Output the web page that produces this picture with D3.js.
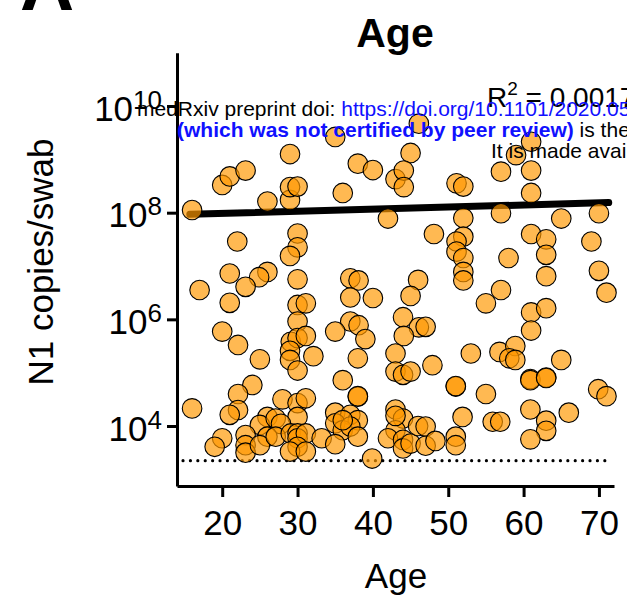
<!DOCTYPE html>
<html>
<head>
<meta charset="utf-8">
<script src="https://cdn.jsdelivr.net/npm/d3@7"></script>
<style>
  body { margin: 0; background: #fff; overflow: hidden; }
  svg { font-family: "Liberation Sans", Arial, sans-serif; }
</style>
</head>
<body>
<script>
// ages of each swab (x) and log10 of N1 copies/swab (y)
var ages = [16.0,35.0,29.0,20.0,21.0,23.1,26.0,29.0,29.0,30.0,36.0,38.0,40.0,43.0,42.0,46.1,45.0,44.1,44.1,51.1,52.0,57.0,61.0,59.0,61.0,61.0,57.0,52.0,65.0,70.0,
    22.0,30.0,30.0,29.0,21.0,26.0,24.9,23.1,17.0,21.0,30.0,37.0,38.1,37.0,40.0,30.0,31.1,30.0,37.0,38.1,20.0,35.0,48.1,52.0,51.1,51.1,52.0,52.0,52.0,58.0,61.0,63.0,63.0,63.0,69.0,70.0,71.0,46.0,45.0,57.0,55.0,61.0,63.0,44.0,46.1,47.0,61.0,
    22.1,25.0,29.1,30.0,31.1,29.0,29.0,30.0,32.1,24.0,22.1,28.0,16.0,22.1,21.0,30.0,31.1,30.0,26.0,25.0,27.1,27.8,23.1,23.1,23.1,20.0,19.0,26.0,25.0,27.1,29.1,30.0,30.0,31.1,30.0,29.0,31.1,33.2,
    39.0,38.0,36.0,38.0,38.0,35.0,37.0,38.0,35.0,36.0,37.0,38.0,35.0,39.9,44.1,43.0,43.0,44.0,45.0,47.9,53.0,51.0,51.0,43.0,44.0,43.0,42.0,44.0,44.0,45.0,46.0,47.0,47.0,48.3,51.9,51.0,51.0,43.0,36.0,
    56.8,58.9,58.1,58.9,65.0,60.9,60.9,63.0,63.0,55.0,69.9,71.0,60.9,66.0,55.9,56.9,63.0,63.0,60.9];

var copiesLog10 = [8.05,9.42,9.10,8.52,8.68,8.79,8.21,8.24,8.48,8.49,8.37,8.92,8.80,8.63,7.89,9.67,9.12,8.79,8.48,8.55,8.49,8.77,9.33,9.08,8.79,8.37,7.99,7.90,7.89,7.99,
    7.46,7.61,7.35,7.19,6.86,6.89,6.79,6.61,6.55,6.31,6.75,6.77,6.73,6.41,6.40,6.27,6.30,5.96,5.96,5.89,5.77,5.77,7.60,7.55,7.46,7.27,7.15,6.89,6.73,7.15,7.60,7.50,7.21,6.81,7.46,6.91,6.50,6.74,6.44,6.55,6.30,6.13,6.21,6.04,5.85,5.86,5.79,
    5.52,5.25,5.58,5.65,5.69,5.41,5.24,5.04,5.31,4.77,4.60,4.50,4.33,4.30,4.21,4.43,4.52,4.17,4.17,4.02,4.14,4.04,3.83,3.64,3.50,3.77,3.61,3.80,3.64,3.80,3.86,3.86,3.77,3.86,3.61,3.52,3.52,3.77,
    5.63,5.27,4.86,4.55,4.56,4.25,4.21,4.11,4.05,3.92,3.99,3.80,3.66,3.39,5.69,5.36,5.02,4.96,5.02,5.14,5.36,4.74,4.75,4.31,4.14,3.92,3.77,3.74,3.58,3.67,4.00,3.99,3.63,3.72,4.17,3.80,3.64,4.19,4.11,
    5.39,5.50,5.27,5.24,5.24,4.88,4.86,4.91,4.90,4.60,4.69,4.56,4.31,4.25,4.08,4.08,4.10,3.91,3.75];

// linear fit shown on the figure (ends of the line)
var fitAges = [15.7, 71.3];
var fitLog10 = [7.97, 8.19];

// limit of detection (dotted line)
var lodLog10 = 3.35;
var lodAges = [14.8, 71.4];

var xTicks = [20, 30, 40, 50, 60, 70];
var yTickExps = [4, 6, 8, 10];

var width = 627, height = 598;

var svg = d3.select("body").append("svg")
    .attr("width", width)
    .attr("height", height);

var x = d3.scaleLinear().domain([14, 72]).range([177, 614]);
var y = d3.scaleLog().domain([750, 1e11]).range([486, 52.7]);

//fit line under the dots
svg.append("line")
    .attr("x1", x(fitAges[0])).attr("y1", y(Math.pow(10, fitLog10[0])))
    .attr("x2", x(fitAges[1])).attr("y2", y(Math.pow(10, fitLog10[1])))
    .attr("stroke", "#000")
    .attr("stroke-width", 7)
    .attr("stroke-linecap", "round");

//dotted LOD line
svg.append("line")
    .attr("x1", x(lodAges[0])).attr("x2", x(lodAges[1]))
    .attr("y1", y(Math.pow(10, lodLog10))).attr("y2", y(Math.pow(10, lodLog10)))
    .attr("stroke", "#000")
    .attr("stroke-width", 3.2)
    .attr("stroke-linecap", "round")
    .attr("stroke-dasharray", "0 7.4");

var points = ages.map(function (a, i) { return { age: a, copies: Math.pow(10, copiesLog10[i]) }; });

svg.selectAll(".dot")
    .data(points)
    .enter()
    .append("circle")
    .attr("class", "dot")
    .attr("cx", function (d) { return x(d.age); })
    .attr("cy", function (d) { return y(d.copies); })
    .attr("r", 9.8)
    .attr("fill", "#ff9800")
    .attr("fill-opacity", 0.68)
    .attr("stroke", "#000")
    .attr("stroke-width", 1.1);

//y axis
var yAxis = svg.append("g")
    .attr("transform", "translate(177,0)")
    .call(d3.axisLeft(y)
        .tickValues(yTickExps.map(function (e) { return Math.pow(10, e); }))
        .tickSize(10)
        .tickSizeOuter(0));
yAxis.select(".domain").attr("stroke-width", 3);
yAxis.selectAll(".tick line").attr("stroke-width", 3);
yAxis.selectAll(".tick text").each(function (d, i) {
    var t = d3.select(this);
    t.text(null)
        .attr("x", -15).attr("y", 14).attr("dy", null)
        .attr("font-size", 35).attr("fill", "#000");
    t.append("tspan").text("10");
    t.append("tspan").attr("dy", -12).attr("font-size", 26).text(yTickExps[i]);
});

//x axis
var xAxis = svg.append("g")
    .attr("transform", "translate(0,486)")
    .call(d3.axisBottom(x)
        .tickValues(xTicks)
        .tickSize(11)
        .tickSizeOuter(0));
xAxis.select(".domain").attr("stroke-width", 3);
xAxis.selectAll(".tick line").attr("stroke-width", 3);
xAxis.selectAll(".tick text")
    .attr("y", 49).attr("dy", null)
    .attr("font-size", 35).attr("fill", "#000");

//titles
svg.append("text")
    .attr("x", 395).attr("y", 47)
    .attr("text-anchor", "middle")
    .attr("font-size", 41).attr("font-weight", "bold")
    .text("Age");

svg.append("text")
    .attr("x", 396).attr("y", 588)
    .attr("text-anchor", "middle")
    .attr("font-size", 35)
    .text("Age");

svg.append("text")
    .attr("transform", "translate(53,262) rotate(-90)")
    .attr("text-anchor", "middle")
    .attr("font-size", 35)
    .text("N1 copies/swab");

svg.append("text")
    .attr("x", 20).attr("y", 10)
    .attr("font-size", 75).attr("font-weight", "bold")
    .text("A");

//R squared
var r2 = svg.append("text")
    .attr("x", 487).attr("y", 107)
    .attr("font-size", 28);
r2.append("tspan").text("R");
r2.append("tspan").attr("dy", -12).attr("font-size", 19).text("2");
r2.append("tspan").attr("dy", 12).text(" = 0.0017");

//preprint header that sits over the figure
var l1 = svg.append("text").attr("x", 137).attr("y", 116).attr("font-size", 21);
l1.append("tspan").attr("fill", "#000").text("medRxiv preprint doi: ");
l1.append("tspan").attr("fill", "#1010ff").text("https://doi.org/10.1101/2020.05.01");

var l2 = svg.append("text").attr("x", 177).attr("y", 137).attr("font-size", 21);
l2.append("tspan").attr("fill", "#1010ff").attr("font-weight", "bold").text("(which was not certified by peer review)");
l2.append("tspan").attr("fill", "#000").text(" is the author/funder");

svg.append("text").attr("x", 491).attr("y", 158).attr("font-size", 21)
    .attr("fill", "#000")
    .text("It is made available under a");
</script>
</body>
</html>
